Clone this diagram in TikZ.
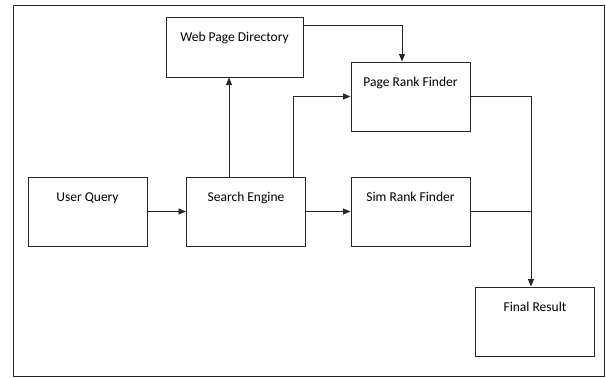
\documentclass[tikz,border=0pt]{standalone}
\usepackage{fontspec}
\setmainfont{Carlito}
\usetikzlibrary{arrows.meta}
\tikzset{
  box/.style={draw=black!85, line width=1pt, minimum width=119pt, minimum height=69pt, inner sep=0pt},
  conn/.style={draw=black!85, line width=0.9pt},
  arr/.style={conn, -{Triangle[length=7.5pt,width=6pt]}},
  caption/.style={anchor=base, yshift=-25pt, font=\fontsize{13.5}{16}\selectfont}
}
\begin{document}
\begin{tikzpicture}[x=1pt, y=-1pt]
\useasboundingbox (0,0) rectangle (606,378);
% outer frame
\draw[black!85, line width=1pt] (13.5,5.5) rectangle (604.5,376.5);

% boxes
\node[box, minimum width=137pt, minimum height=60pt, label={[caption]north:Web Page Directory}] (wpd) at (234.5,47) {};
\node[box, label={[caption]north:Page Rank Finder}] (prf) at (410.5,96.5) {};
\node[box, label={[caption]north:User Query}] (uq) at (87.5,211.5) {};
\node[box, label={[caption]north:Search Engine}] (se) at (246,211.5) {};
\node[box, label={[caption]north:Sim Rank Finder}] (srf) at (410.5,211.5) {};
\node[box, label={[caption]north:Final Result}] (fr) at (535,321.5) {};

% helper points
\coordinate (seup) at ([xshift=-17pt]se.north);
\coordinate (sepr) at ([xshift=47pt]se.north);
\coordinate (wpdout) at ([yshift=22pt]wpd.east);
\coordinate (prfin) at ([xshift=-8.5pt]prf.north);
\coordinate (frin) at ([xshift=-4pt]fr.north);
\coordinate (bus) at (frin |- prf.east);

% connectors
\draw[arr] (uq.east) -- (se.west);
\draw[arr] (se.east) -- (srf.west);
\draw[arr] (seup) -- (seup |- wpd.south);
\draw[arr] (sepr) |- (prf.west);
\draw[arr] (wpdout) -| (prfin);
\draw[conn] (prf.east) -- ([xshift=1pt]bus);
\draw[conn] (srf.east) -- ([xshift=1pt]bus |- srf.east);
\draw[arr] (bus) -- (frin);
\end{tikzpicture}
\end{document}
